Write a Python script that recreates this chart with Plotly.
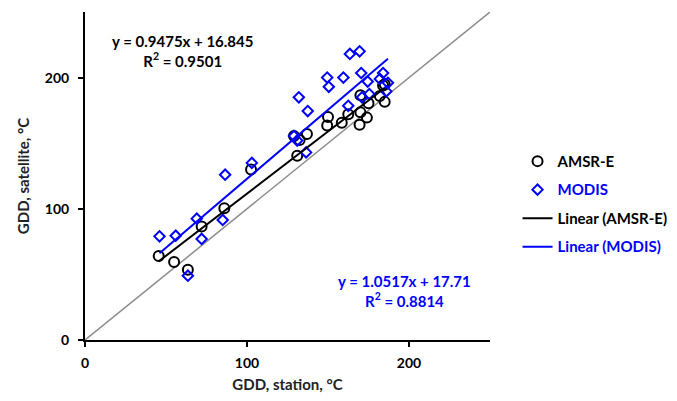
import plotly.graph_objects as go

# GDD station vs satellite (°C)
amsr_x = [45.5, 55, 63.5, 72, 86, 102.5, 131, 129, 132.5, 137, 149.5, 150, 158.5,
          162.5, 169.5, 170, 174, 170, 175, 182, 185, 184, 185]
amsr_y = [64, 59.5, 53.5, 86.5, 100.5, 130, 140.5, 155.5, 152.5, 157, 163.5, 170, 165.5,
          172, 164, 173.5, 169.5, 186.5, 180.5, 186, 181.5, 194, 195]

modis_x = [46, 56, 63.5, 69, 72, 85, 86.5, 103, 129, 131, 136.5, 132, 137.5, 149.5,
           150.5, 159.5, 163.5, 169.5, 170.5, 174.5, 162.5, 175.5, 171, 184, 182, 187, 186]
modis_y = [79, 79.5, 49, 92.5, 77, 91.5, 126, 135, 155.5, 152, 143, 185, 174.5, 200,
           193, 200, 218, 220, 203.5, 197, 178.5, 187.5, 185, 203.5, 199, 196, 189.5]

# linear trend coefficients (slope, intercept) as printed on the chart
amsr_fit = (0.9475, 16.845)
modis_fit = (1.0517, 17.71)

tick_vals = [0, 100, 200]

BLUE = '#0000ff'
FONT = 'Lato'

fig = go.Figure()

# 1:1 line
fig.add_trace(go.Scatter(x=[0, 250], y=[0, 250], mode='lines',
                         line=dict(color='#8c8c8c', width=1.5),
                         showlegend=False, hoverinfo='skip'))

fig.add_trace(go.Scatter(x=amsr_x, y=amsr_y, mode='markers', name='<b>AMSR-E</b>',
                         legendgroup='a',
                         marker=dict(symbol='circle-open', size=10, color='black',
                                     line=dict(width=2, color='black'))))
fig.add_trace(go.Scatter(x=modis_x, y=modis_y, mode='markers',
                         name=f"<b><span style='color:{BLUE}'>MODIS</span></b>",
                         legendgroup='b',
                         marker=dict(symbol='diamond-open', size=8, color=BLUE,
                                     line=dict(width=2, color=BLUE))))

def trend(xs, coef):
    x0, x1 = min(xs), max(xs)
    return [x0, x1], [coef[0] * x0 + coef[1], coef[0] * x1 + coef[1]]

tx, ty = trend(amsr_x, amsr_fit)
fig.add_trace(go.Scatter(x=tx, y=ty, mode='lines', name='<b>Linear (AMSR-E)</b>',
                         legendgroup='c', line=dict(color='black', width=2)))
tx, ty = trend(modis_x, modis_fit)
fig.add_trace(go.Scatter(x=tx, y=ty, mode='lines',
                         name=f"<b><span style='color:{BLUE}'>Linear (MODIS)</span></b>",
                         legendgroup='d', line=dict(color=BLUE, width=2)))

fig.add_annotation(x=60, y=220.5, xref='x', yref='y', showarrow=False,
                   text='<b>y = 0.9475x + 16.845<br>R<sup>2</sup> = 0.9501</b>',
                   font=dict(family=FONT, size=15, color='black'), align='center')
fig.add_annotation(x=197.5, y=37.5, xref='x', yref='y', showarrow=False,
                   text='<b>y = 1.0517x + 17.71<br>R<sup>2</sup> = 0.8814</b>',
                   font=dict(family=FONT, size=15, color=BLUE), align='center')

axis_common = dict(range=[0, 250], tickvals=tick_vals,
                   ticktext=[f'<b>{v}</b>' for v in tick_vals],
                   showgrid=False, zeroline=False, automargin=False,
                   showline=True, linecolor='black', linewidth=2,
                   ticks='outside', ticklen=5, tickwidth=1.5, tickcolor='black',
                   tickfont=dict(family=FONT, size=14, color='black'))

fig.update_xaxes(title=dict(text='<b>GDD, station, °C</b>', standoff=10,
                            font=dict(family=FONT, size=15, color='#222')),
                 ticklabelstandoff=4, **axis_common)
fig.update_yaxes(title=dict(text='<b>GDD, satellite, °C</b>', standoff=12,
                            font=dict(family=FONT, size=15, color='#222')),
                 ticklabelstandoff=6, **axis_common)

fig.update_layout(
    width=677, height=401,
    margin=dict(l=85, r=187, t=12, b=61, autoexpand=False),
    plot_bgcolor='white', paper_bgcolor='white',
    font=dict(family=FONT, color='black'),
    legend=dict(x=1.068, y=0.415, xanchor='left', yanchor='middle',
                font=dict(family=FONT, size=15, color='black'),
                itemwidth=30, tracegroupgap=6, traceorder='grouped',
                bgcolor='rgba(0,0,0,0)'),
)

# drop the default page margin so the figure sits at the window's corner
fig.write_html("out.html", config={'displayModeBar': False},
               post_script="document.body.style.margin='0px';")
